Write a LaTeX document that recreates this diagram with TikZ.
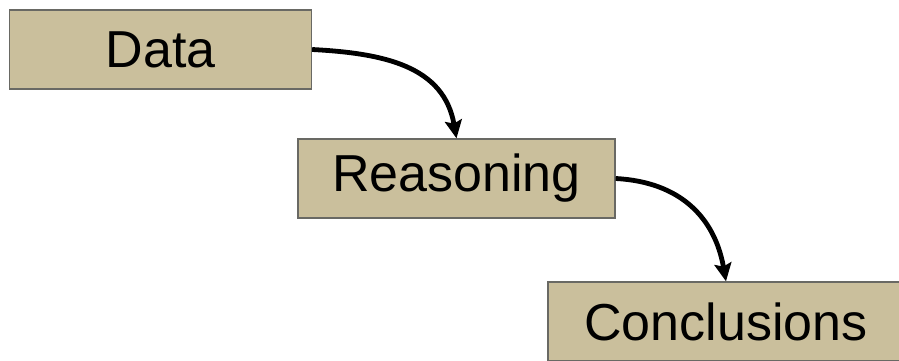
\documentclass[tikz,border=0pt]{standalone}
\usepackage{fontspec}
\setmainfont{Liberation Sans}
\usetikzlibrary{arrows.meta}
\definecolor{boxtan}{RGB}{202,191,156}
\definecolor{boxline}{RGB}{105,105,100}

\begin{document}
\begin{tikzpicture}[x=1pt,y=-1pt,
  stage/.style={draw=boxline,line width=1.3pt,fill=boxtan,inner sep=0pt,minimum height=79pt,
    font=\fontsize{52}{62}\selectfont},
  flow/.style={line width=4.8pt,-{Stealth[length=18pt,width=17pt,inset=3pt]}}]
\path[use as bounding box,clip] (0,0) rectangle (899,360);

\node[stage,minimum width=302pt] (Data) at (160.5,49.5) {Data};
\node[stage,minimum width=317pt] (Reasoning) at (456.5,178.5) {Reasoning};
\node[stage,minimum width=356pt] (Conclusions) at (726,321.5) {Conclusions};

\draw[flow] (Data.east) to[out=-3,in=100,looseness=1.1] (Reasoning.north);
\draw[flow] (Reasoning.east) to[out=-3,in=100,looseness=1.1] (Conclusions.north);
\end{tikzpicture}
\end{document}
